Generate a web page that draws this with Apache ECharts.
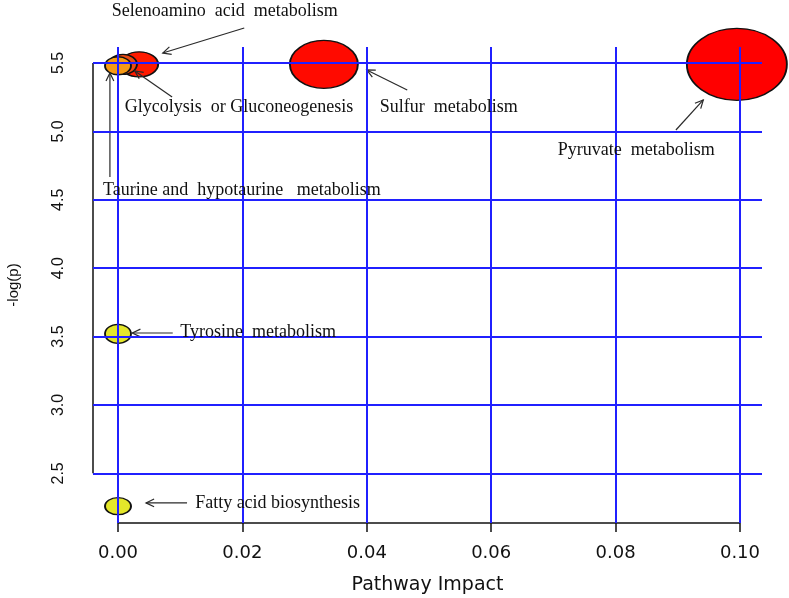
<!DOCTYPE html>
<html>
<head>
<meta charset="utf-8">
<script src="https://cdn.jsdelivr.net/npm/echarts@6/dist/echarts.min.js"></script>
<style>
  html, body { margin: 0; padding: 0; background: #ffffff; }
  #chart { width: 789px; height: 598px; }
</style>
</head>
<body>
<div id="chart"></div>
<script>
// ---------------- data ----------------
const categories = [
  'Pyruvate metabolism',
  'Sulfur metabolism',
  'Selenoamino acid metabolism',
  'Glycolysis or Gluconeogenesis',
  'Taurine and hypotaurine metabolism',
  'Tyrosine metabolism',
  'Fatty acid biosynthesis'
];
const impactValues = [0.0995, 0.0331, 0.0034, 0.0008, 0.0, 0.0, 0.0];
const logpValues   = [5.49, 5.49, 5.49, 5.49, 5.48, 3.52, 2.26];

const xTicks = [0.00, 0.02, 0.04, 0.06, 0.08, 0.10];
const yTicks = [2.5, 3.0, 3.5, 4.0, 4.5, 5.0, 5.5];
const xTickLabels = ['0.00', '0.02', '0.04', '0.06', '0.08', '0.10'];
const yTickLabels = ['2.5', '3.0', '3.5', '4.0', '4.5', '5.0', '5.5'];

const xTitle = 'Pathway Impact';
const yTitle = '-log(p)';

// annotation texts as printed in the figure
const annotationTexts = [
  'Pyruvate  metabolism',
  'Sulfur  metabolism',
  'Selenoamino  acid  metabolism',
  'Glycolysis  or Gluconeogenesis',
  'Taurine and  hypotaurine   metabolism',
  'Tyrosine  metabolism',
  'Fatty acid biosynthesis'
];
// annotation text anchor (left, middle) in data units
const annotationTextX = [0.0707, 0.0421, -0.0010, 0.0011, -0.0024, 0.0100, 0.0124];
const annotationTextY = [4.864, 5.178, 5.880, 5.178, 4.572, 3.534, 2.284];
// arrows: start -> end in data units
const arrowFromX = [0.0897, 0.0465, 0.0203, 0.0087, -0.0013, 0.0088, 0.0111];
const arrowFromY = [5.010, 5.303, 5.756, 5.251, 4.667, 3.526, 2.284];
const arrowToX   = [0.0941, 0.0400, 0.0072, 0.0027, -0.0013, 0.0023, 0.0045];
const arrowToY   = [5.230, 5.449, 5.573, 5.442, 5.427, 3.526, 2.284];

// ---------------- styles ----------------
const bubbleSizes = [[100, 72], [68, 48], [38, 25], [28, 20], [26, 18], [26, 19], [26, 17]];
const bubbleColors = ['#ff0000', '#ff0a00', '#ff1a00', '#ec4a12', '#f79a16', '#e4e62a', '#e4e62a'];
const axisRange = { xMin: -0.00402, xMax: 0.10354, yMin: 2.137, yMax: 5.617 };
const gridBlue = '#2020ff';

const chart = echarts.init(document.getElementById('chart'));

const bubbleData = categories.map((name, i) => ({
  name: name,
  value: [impactValues[i], logpValues[i]],
  symbolSize: bubbleSizes[i],
  itemStyle: { color: bubbleColors[i] }
}));

const arrowData = categories.map((_, i) => [arrowFromX[i], arrowFromY[i], arrowToX[i], arrowToY[i]]);
const textData = categories.map((_, i) => [annotationTextX[i], annotationTextY[i]]);

function renderArrow(params, api) {
  const s = api.coord([api.value(0), api.value(1)]);
  const e = api.coord([api.value(2), api.value(3)]);
  const ang = Math.atan2(e[1] - s[1], e[0] - s[0]);
  const L = 9, spread = Math.PI / 7;
  const p1 = [e[0] - L * Math.cos(ang - spread), e[1] - L * Math.sin(ang - spread)];
  const p2 = [e[0] - L * Math.cos(ang + spread), e[1] - L * Math.sin(ang + spread)];
  const st = { stroke: '#2a2a2a', lineWidth: 1.2, fill: null };
  return {
    type: 'group',
    children: [
      { type: 'line', shape: { x1: s[0], y1: s[1], x2: e[0], y2: e[1] }, style: st },
      { type: 'polyline', shape: { points: [p1, e, p2] }, style: st }
    ]
  };
}

function renderText(params, api) {
  const p = api.coord([api.value(0), api.value(1)]);
  return {
    type: 'text',
    x: p[0],
    y: p[1],
    style: {
      text: annotationTexts[params.dataIndex],
      fill: '#111111',
      font: '18px "Liberation Serif", "Times New Roman", serif',
      align: 'left',
      verticalAlign: 'middle'
    }
  };
}

const option = {
  backgroundColor: '#ffffff',
  animation: false,
  grid: { left: 93, right: 27, top: 47, bottom: 75, containLabel: false, outerBoundsMode: 'none' },
  xAxis: {
    type: 'value',
    min: axisRange.xMin,
    max: axisRange.xMax,
    name: xTitle,
    nameLocation: 'middle',
    nameGap: 53,
    nameTextStyle: { fontFamily: 'DejaVu Sans', fontSize: 19, color: '#111' },
    axisLine: { show: false },
    splitLine: { show: false },
    axisTick: {
      show: true, length: 9, customValues: xTicks,
      lineStyle: { color: '#111', width: 1.5 }
    },
    axisLabel: {
      customValues: xTicks,
      margin: 21,
      fontFamily: 'DejaVu Sans', fontSize: 18, color: '#111',
      formatter: function (v) {
        const k = xTicks.findIndex(t => Math.abs(t - v) < 1e-9);
        return k >= 0 ? xTickLabels[k] : '';
      }
    }
  },
  yAxis: {
    type: 'value',
    min: axisRange.yMin,
    max: axisRange.yMax,
    name: yTitle,
    nameLocation: 'middle',
    nameRotate: 90,
    nameGap: 72,
    nameTextStyle: { fontFamily: 'Liberation Sans', fontSize: 15, color: '#111' },
    axisLine: { show: false },
    splitLine: { show: false },
    axisTick: {
      show: true, length: 13, customValues: yTicks,
      lineStyle: { color: '#111', width: 1.5 }
    },
    axisLabel: {
      customValues: yTicks,
      rotate: 90,
      margin: 26,
      fontFamily: 'Liberation Sans', fontSize: 16, color: '#111',
      formatter: function (v) {
        const k = yTicks.findIndex(t => Math.abs(t - v) < 1e-9);
        return k >= 0 ? yTickLabels[k] : '';
      }
    }
  },
  series: [
    {
      name: 'grid',
      type: 'line',
      data: [],
      silent: true,
      z: 1,
      markLine: {
        silent: true,
        symbol: 'none',
        label: { show: false },
        lineStyle: { color: gridBlue, width: 2, type: 'solid' },
        data: xTicks.map(v => ({ xAxis: v })).concat(yTicks.map(v => ({ yAxis: v })))
      }
    },
    {
      name: 'yAxisLine',
      type: 'line',
      clip: false,
      symbol: 'none',
      silent: true,
      z: 2,
      lineStyle: { color: '#111', width: 1.5 },
      data: [[axisRange.xMin, yTicks[0]], [axisRange.xMin, yTicks[yTicks.length - 1]]]
    },
    {
      name: 'xAxisLine',
      type: 'line',
      clip: false,
      symbol: 'none',
      silent: true,
      z: 2,
      lineStyle: { color: '#111', width: 1.5 },
      data: [[xTicks[0], axisRange.yMin], [xTicks[xTicks.length - 1], axisRange.yMin]]
    },
    {
      name: 'pathways',
      type: 'scatter',
      clip: false,
      z: 3,
      symbol: 'circle',
      itemStyle: { borderColor: '#111', borderWidth: 1.6, opacity: 1 },
      data: bubbleData
    },
    {
      name: 'arrows',
      type: 'custom',
      clip: false,
      silent: true,
      z: 4,
      renderItem: renderArrow,
      encode: { x: [0, 2], y: [1, 3] },
      data: arrowData
    },
    {
      name: 'labels',
      type: 'custom',
      clip: false,
      silent: true,
      z: 5,
      renderItem: renderText,
      encode: { x: 0, y: 1 },
      data: textData
    }
  ]
};

chart.setOption(option);
</script>
</body>
</html>
